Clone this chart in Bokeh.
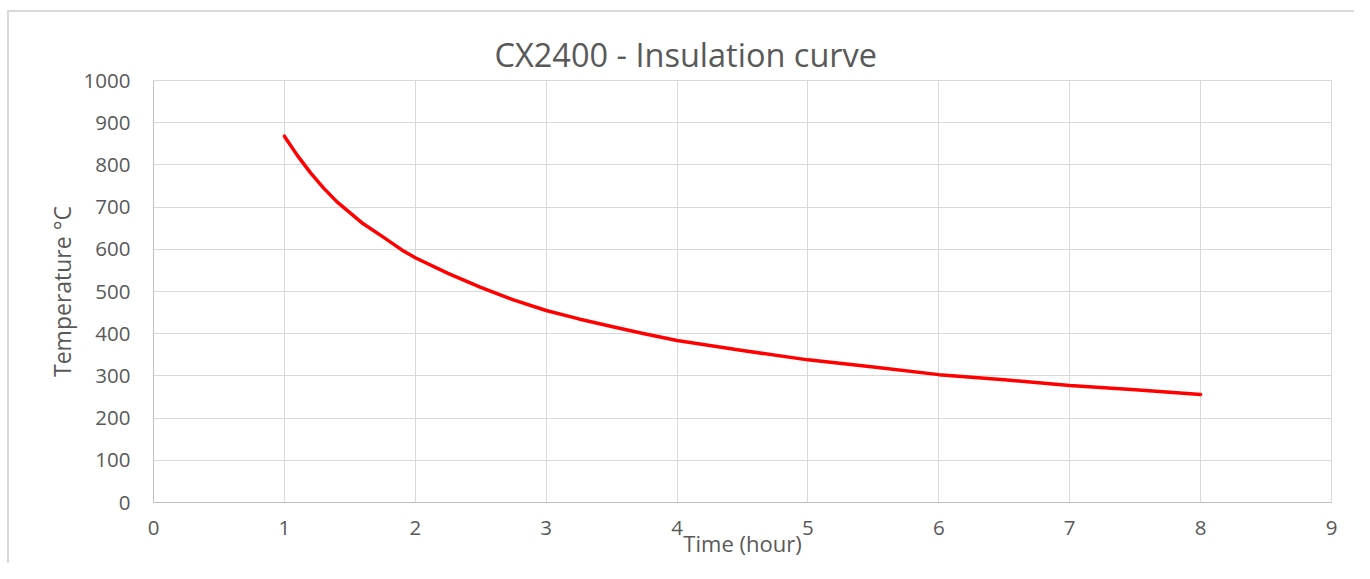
from bokeh.plotting import figure
from bokeh.embed import file_html
from bokeh.resources import INLINE
from bokeh.models import Range1d, FixedTicker, Title

# Data
time_hours = [1.0, 1.1, 1.2, 1.3, 1.4, 1.5, 1.6, 1.75, 1.9, 2.0, 2.25, 2.5, 2.75, 3.0, 3.25, 3.5,
              3.75, 4.0, 4.5, 5.0, 5.5, 6.0, 6.5, 7.0, 7.5, 8.0]
temperature_c = [868, 822, 781, 745, 713, 687, 661, 630, 598, 580, 543, 510, 480, 455, 435, 417,
                 400, 384, 360, 338, 321, 303, 291, 277, 267, 256]

x_ticks = [0, 1, 2, 3, 4, 5, 6, 7, 8, 9]
y_ticks = [0, 100, 200, 300, 400, 500, 600, 700, 800, 900, 1000]

title_text = "CX2400 - Insulation curve"
x_label = "Time (hour)"
y_label = "Temperature °C"

FONT = "Open Sans"
TXT = "#595959"
BORDER = "#d9d9d9"

W, H = 1354, 563

p = figure(
    width=W, height=H,
    output_backend="svg", toolbar_location=None,
    x_range=Range1d(0, 9), y_range=Range1d(0, 1000),
    min_border_left=153, min_border_right=23,
    min_border_top=80, min_border_bottom=61,
    background_fill_color="white", border_fill_alpha=0,
)

# outer chart border (drawn as CSS background behind the transparent canvas border area)
p.styles = {
    "background": (f"linear-gradient({BORDER},{BORDER}) 7px 10px / 2px 700px no-repeat, "
                   f"linear-gradient({BORDER},{BORDER}) 7px 10px / 1500px 2px no-repeat, white"),
}

p.add_layout(Title(text=title_text, align="left",
                   text_font=FONT, text_font_size="32.5px", text_font_style="normal",
                   text_color=TXT, offset=341, standoff=7), "above")

p.line(time_hours, temperature_c, line_color="#ff0000", line_width=3.5,
       line_cap="round", line_join="round")

p.outline_line_color = "#d9d9d9"
p.outline_line_width = 1

p.xgrid.grid_line_color = "#d9d9d9"
p.ygrid.grid_line_color = "#d9d9d9"

p.xaxis.ticker = FixedTicker(ticks=x_ticks)
p.yaxis.ticker = FixedTicker(ticks=y_ticks)

for ax in (p.xaxis[0], p.yaxis[0]):
    ax.axis_line_color = "#bfbfbf"
    ax.axis_line_width = 1
    ax.major_tick_line_color = None
    ax.minor_tick_line_color = None
    ax.major_label_text_font = FONT
    ax.major_label_text_font_size = "20.5px"
    ax.major_label_text_color = TXT
    ax.axis_label_text_font = FONT
    ax.axis_label_text_font_size = "22px"
    ax.axis_label_text_font_style = "normal"
    ax.axis_label_text_color = TXT

p.yaxis.axis_label_text_font_size = "23px"
p.xaxis.axis_label = x_label
p.yaxis.axis_label = y_label
p.xaxis.major_label_standoff = 12
p.xaxis.axis_label_standoff = -10
p.yaxis.major_label_standoff = 17
p.yaxis.axis_label_standoff = 3

open("out.html", "w").write(file_html(p, INLINE))
